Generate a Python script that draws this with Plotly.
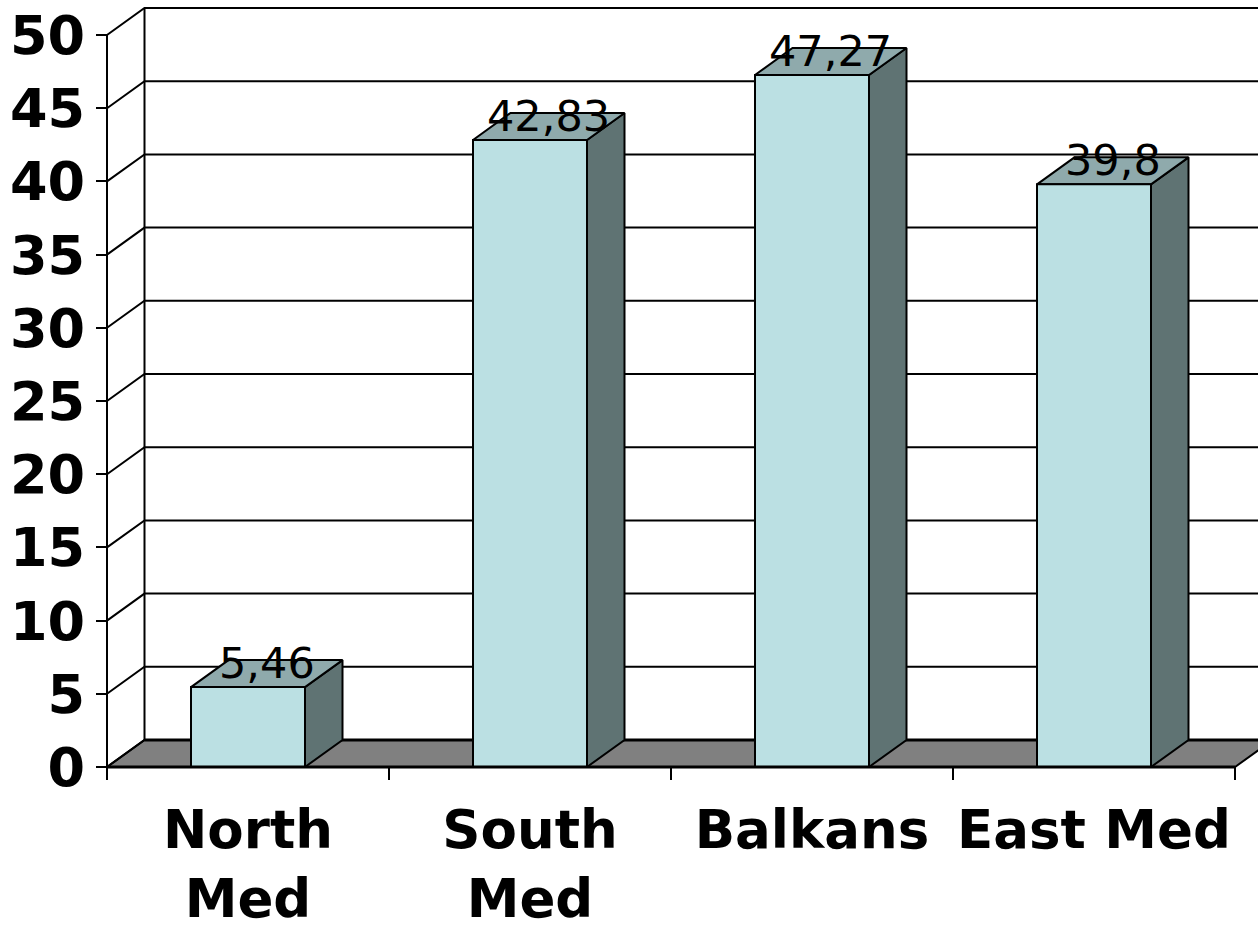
import plotly.graph_objects as go

# ---- data ----
categories = ["North<br>Med", "South<br>Med", "Balkans", "East Med"]
values = [5.46, 42.83, 47.27, 39.8]
value_labels = [f"{v:g}".replace(".", ",") for v in values]
y_ticks = [0, 5, 10, 15, 20, 25, 30, 35, 40, 45, 50]

# ---- geometry (pixel calibration -> data units) ----
W, H = 1258, 928
X_LEFT_PX = 107      # pixel of category boundary 0
CAT_PX = 282         # pixels per category
Y0_PX = 767          # pixel of value 0
PX_PER_UNIT = 14.64  # pixels per value unit
xmin = -X_LEFT_PX / CAT_PX
xmax = (W - X_LEFT_PX) / CAT_PX
ymax = Y0_PX / PX_PER_UNIT
ymin = -(H - Y0_PX) / PX_PER_UNIT
DX = 37.5 / CAT_PX          # depth offset in x units
DY = 27 / PX_PER_UNIT       # depth offset in y units
HALF = 57 / CAT_PX          # half bar width in x units
n = len(categories)
top_val = y_ticks[-1]

FRONT = "#BBE0E3"
SIDE = "#5F7373"
TOP = "#8FAAAC"
FLOOR = "#808080"

fig = go.Figure()

# floor
fig.add_trace(go.Scatter(
    x=[0, n, n + DX, DX, 0], y=[0, 0, DY, DY, 0],
    mode="lines", fill="toself", fillcolor=FLOOR,
    line=dict(color="black", width=2), hoverinfo="skip", showlegend=False))

# back wall grid lines and side-wall diagonals
gx, gy = [], []
for v in y_ticks:
    gx += [0, DX, xmax + 1, None]
    gy += [v, v + DY, v + DY, None]
# back wall left vertical edge
gx += [DX, DX, None]
gy += [DY, top_val + DY, None]
fig.add_trace(go.Scatter(x=gx, y=gy, mode="lines",
                         line=dict(color="black", width=2),
                         hoverinfo="skip", showlegend=False))
# floor back edge (heavier)
fig.add_trace(go.Scatter(x=[DX, xmax + 1], y=[DY, DY], mode="lines",
                         line=dict(color="black", width=3),
                         hoverinfo="skip", showlegend=False))

# front value axis line
fig.add_trace(go.Scatter(x=[0, 0], y=[0, top_val], mode="lines",
                         line=dict(color="black", width=2),
                         hoverinfo="skip", showlegend=False))

# bars: front, side, top faces
fx, fy, sx, sy, tx, ty = [], [], [], [], [], []
for i, v in enumerate(values):
    c = i + 0.5
    xl, xr = c - HALF, c + HALF
    fx += [xl, xr, xr, xl, xl, None]
    fy += [0, 0, v, v, 0, None]
    sx += [xr, xr + DX, xr + DX, xr, xr, None]
    sy += [0, DY, v + DY, v, 0, None]
    tx += [xl, xr, xr + DX, xl + DX, xl, None]
    ty += [v, v, v + DY, v + DY, v, None]
for xs, ys, col in [(sx, sy, SIDE), (tx, ty, TOP), (fx, fy, FRONT)]:
    fig.add_trace(go.Scatter(x=xs, y=ys, mode="lines", fill="toself",
                             fillcolor=col, line=dict(color="black", width=2),
                             hoverinfo="skip", showlegend=False))

# front category axis line and boundary ticks
fig.add_trace(go.Scatter(x=[0, n], y=[0, 0], mode="lines",
                         line=dict(color="black", width=3),
                         hoverinfo="skip", showlegend=False))
kx, ky = [], []
for i in range(n + 1):
    kx += [i, i, None]
    ky += [0, -13 / PX_PER_UNIT, None]
fig.add_trace(go.Scatter(x=kx, y=ky, mode="lines",
                         line=dict(color="black", width=2),
                         hoverinfo="skip", showlegend=False))

# value labels
for i, (v, lab) in enumerate(zip(values, value_labels)):
    fig.add_annotation(x=i + 0.5 + DX / 2, y=v + DY, text=lab,
                       showarrow=False, yanchor="middle", yshift=-3,
                       font=dict(family="DejaVu Sans", size=43, color="black"))

fig.update_layout(
    width=W, height=H,
    margin=dict(l=0, r=0, t=0, b=0),
    paper_bgcolor="white", plot_bgcolor="white",
    showlegend=False,
    xaxis=dict(range=[xmin, xmax], anchor="free", position=(H - Y0_PX) / H,
               tickmode="array", tickvals=[i + 0.5 for i in range(n)],
               ticktext=categories, ticks="", showgrid=False, zeroline=False,
               showline=False, ticklabelstandoff=27, ticklabeloverflow="allow",
               tickfont=dict(family="DejaVu Sans", size=53, color="black", weight="bold")),
    yaxis=dict(range=[ymin, ymax], anchor="free", position=X_LEFT_PX / W,
               tickmode="array", tickvals=y_ticks, ticks="outside", ticklen=11,
               tickwidth=2, tickcolor="black", showgrid=False, zeroline=False,
               showline=False, ticklabeloverflow="allow", automargin=False,
               tickfont=dict(family="DejaVu Sans", size=54, color="black", weight="bold")),
)

fig.write_html("out.html", config={"displayModeBar": False},
               post_script="document.body.style.margin='0';")
